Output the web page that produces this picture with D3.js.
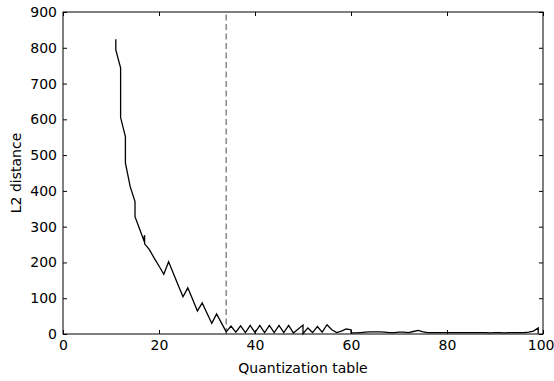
<!DOCTYPE html>
<html>
<head>
<meta charset="utf-8">
<script src="https://cdnjs.cloudflare.com/ajax/libs/d3/7.8.5/d3.min.js"></script>
<style>
  html, body { margin: 0; padding: 0; background: #fff; }
  svg text { font-family: "DejaVu Sans", sans-serif; }
</style>
</head>
<body>
<svg id="chart" width="554" height="381"></svg>
<script>
// Data
const tableIndex = [11, 11, 12, 12, 13, 13, 14, 15, 15, 16, 16.8, 17, 17, 18, 19, 20, 21, 22, 23, 24, 25, 26, 27, 28, 29, 30, 31, 32, 33, 34,
  35, 36, 37, 38, 39, 40, 41, 42, 43, 44, 45, 46, 47, 48, 50, 50,
  51, 52, 53, 54, 55, 56, 57, 58, 59, 60, 60,
  61, 62, 63, 64, 65, 66, 67, 68, 69, 70, 71, 72, 73, 74, 75, 76, 77, 78, 79, 80,
  81, 82, 83, 84, 85, 86, 87, 88, 89, 90, 91, 92, 93, 94, 95, 96, 97, 98, 99, 99];
const l2Distance = [824, 794, 744, 605, 552, 478, 412, 370, 328, 292, 263, 276, 252, 236, 212, 190, 167, 202, 169, 136, 104, 129, 97, 64, 87, 58, 30, 56, 31, 6,
  22, 5, 23, 4, 24, 4, 24, 4, 24, 4, 24, 4, 24, 3, 25, 1,
  17, 4, 21, 5, 26, 12, 4, 8, 14, 12, 3,
  3, 4, 5, 6, 6, 6, 5, 4, 4, 5, 5, 4, 7, 10, 6, 4, 4, 4, 4, 4,
  4, 4, 4, 4, 4, 4, 4, 4, 3, 4, 4, 3, 4, 4, 4, 4, 5, 8, 17, 1];
const thresholdIndex = 34;
const xTicks = [0, 20, 40, 60, 80, 100];
const yTicks = [0, 100, 200, 300, 400, 500, 600, 700, 800, 900];

const svg = d3.select("#chart");
const mLeft = 63, mRight = 543, mTop = 12, mBottom = 334;

const x = d3.scaleLinear().domain([0, 100]).range([mLeft, mRight]);
const y = d3.scaleLinear().domain([0, 900]).range([mBottom, mTop]);

const pts = tableIndex.map((q, i) => [q, l2Distance[i]]);

// threshold dashed line
svg.append("line")
  .attr("x1", x(thresholdIndex)).attr("x2", x(thresholdIndex))
  .attr("y1", y(0)).attr("y2", y(900))
  .attr("stroke", "#808080").attr("stroke-width", 1.4)
  .attr("stroke-dasharray", "6,3.5");

// data line
svg.append("path")
  .datum(pts)
  .attr("fill", "none")
  .attr("stroke", "#000")
  .attr("stroke-width", 1.3)
  .attr("stroke-linejoin", "miter")
  .attr("d", d3.line().x(d => x(d[0])).y(d => y(d[1])));

// axes with inward ticks
const fs = 14;
const gB = svg.append("g").attr("transform", `translate(0,${mBottom})`)
  .call(d3.axisBottom(x).tickValues(xTicks).tickSize(-4).tickPadding(6).tickFormat(d3.format("d")));
const gT = svg.append("g").attr("transform", `translate(0,${mTop})`)
  .call(d3.axisTop(x).tickValues(xTicks).tickSize(-4).tickFormat(""));
const gL = svg.append("g").attr("transform", `translate(${mLeft},0)`)
  .call(d3.axisLeft(y).tickValues(yTicks).tickSize(-4).tickPadding(6).tickFormat(d3.format("d")));
const gR = svg.append("g").attr("transform", `translate(${mRight},0)`)
  .call(d3.axisRight(y).tickValues(yTicks).tickSize(-4).tickFormat(""));

[gB, gT, gL, gR].forEach(g => {
  g.select(".domain").remove();
  g.selectAll(".tick line").attr("stroke", "#000").attr("stroke-width", 1);
  g.selectAll("text").attr("font-size", fs).attr("fill", "#000")
    .attr("font-family", "DejaVu Sans, sans-serif");
});
// keep the last x label inside the window
gB.selectAll(".tick").filter(d => d === 100).select("text").attr("text-anchor", "end").attr("x", 11);

// frame
svg.append("rect")
  .attr("x", mLeft).attr("y", mTop)
  .attr("width", mRight - mLeft).attr("height", mBottom - mTop)
  .attr("fill", "none").attr("stroke", "#000").attr("stroke-width", 1);

// axis labels
svg.append("text")
  .attr("x", (mLeft + mRight) / 2).attr("y", 373)
  .attr("text-anchor", "middle").attr("font-size", fs)
  .text("Quantization table");
svg.append("text")
  .attr("transform", `translate(21,${(mTop + mBottom) / 2}) rotate(-90)`)
  .attr("text-anchor", "middle").attr("font-size", fs)
  .text("L2 distance");
</script>
</body>
</html>
